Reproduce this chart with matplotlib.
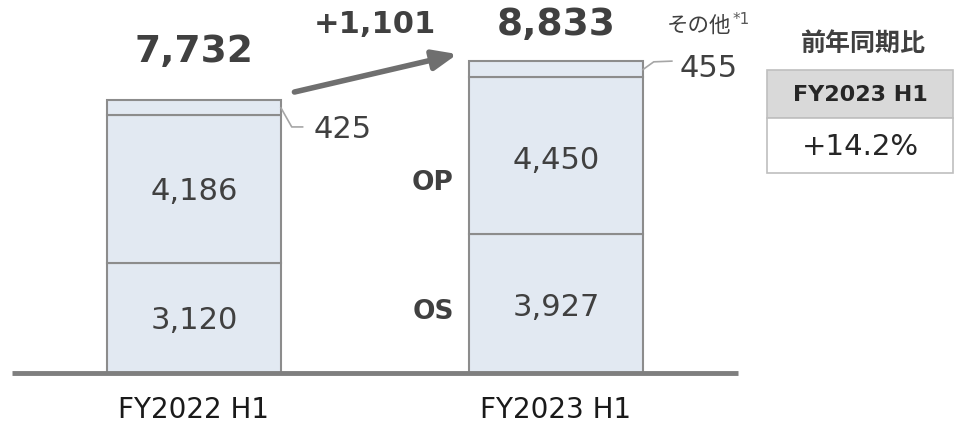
import matplotlib
matplotlib.use('Agg')
import matplotlib.pyplot as plt
from matplotlib.patches import Rectangle, FancyArrowPatch

plt.rcParams['font.family'] = ['DejaVu Sans', 'Noto Sans CJK JP']

categories = ['FY2022 H1', 'FY2023 H1']
os_vals = [3120, 3927]
op_vals = [4186, 4450]
other_vals = [425, 455]
totals = [7732, 8833]
diff_label = '+1,101'
yoy_period = 'FY2023 H1'
yoy_value = '+14.2%'

W, H = 956, 422
fill = '#e2e9f2'
edge = '#8c8c8c'
txt = '#404040'

fig = plt.figure(figsize=(W / 100, H / 100), dpi=100)
ax = fig.add_axes([0, 0, 1, 1])
ax.axis('off')

# pixel mapping: baseline at y=373px, bar centres at 194px and 556px
ppu = 273 / totals[0]
ax.set_ylim(-(H - 373) / ppu, 373 / ppu)
ax.set_xlim(-194 / 362, (W - 194) / 362)
x = [0, 1]
width = 0.48

ax.bar(x, os_vals, width, color=fill, edgecolor=edge, linewidth=1.5)
ax.bar(x, op_vals, width, bottom=os_vals, color=fill, edgecolor=edge, linewidth=1.5)
bot2 = [a + b for a, b in zip(os_vals, op_vals)]
ax.bar(x, other_vals, width, bottom=bot2, color=fill, edgecolor=edge, linewidth=1.5)

ax.hlines(0, -0.503, 1.503, color='#7f7f7f', linewidth=3.5, zorder=3)

os_off = [-60, -120]
op_off = [-60, -120]
tot_off = [1350, 1020]
for i in x:
    ax.text(i, os_vals[i] / 2 + os_off[i], f'{os_vals[i]:,}', ha='center', va='center',
            fontsize=22, color=txt)
    ax.text(i, os_vals[i] + op_vals[i] / 2 + op_off[i],
            f'{op_vals[i]:,}', ha='center', va='center', fontsize=22, color=txt)
    ax.text(i, totals[i] + tot_off[i], f'{totals[i]:,}', ha='center', va='center',
            fontsize=27, fontweight='bold', color=txt)
    ax.text(i, -1040, categories[i], ha='center', va='center', fontsize=20,
            color='#1a1a1a')

# leader lines for "other"
xr = width / 2
ax.plot([xr, xr + 0.03, xr + 0.06], [totals[0] - 220, totals[0] - 763, totals[0] - 763],
        color='#a6a6a6', linewidth=1.2)
ax.text(xr + 0.09, totals[0] - 830, f'{other_vals[0]:,}', ha='left', va='center',
        fontsize=22, color=txt)
ax.plot([1 + xr, 1 + xr + 0.03, 1 + xr + 0.08], [totals[1] - 240, totals[1] - 20, totals[1]],
        color='#a6a6a6', linewidth=1.2)
ax.text(1 + xr + 0.1, totals[1] - 200, f'{other_vals[1]:,}', ha='left', va='center',
        fontsize=22, color=txt)
fig.text(667 / W, 1 - 26 / H, 'その他', ha='left', va='center', fontsize=15.5,
         color=txt, family=['Noto Sans CJK JP'])
fig.text(733 / W, 1 - 20 / H, '*1', ha='left', va='center', fontsize=11, color='#595959')

# segment names
ax.text(0.66, os_vals[1] / 2 - 235, 'OS', ha='center', va='center', fontsize=19,
        fontweight='bold', color=txt)
ax.text(0.66, os_vals[1] + op_vals[1] / 2 - 770, 'OP', ha='center', va='center',
        fontsize=19, fontweight='bold', color=txt)

# growth arrow
arr = FancyArrowPatch((0.27, 7940), (0.735, 9050), arrowstyle='-|>,head_length=12,head_width=5',
                      color='#6f6f6f', linewidth=4, mutation_scale=1.2)
ax.add_patch(arr)
ax.text(0.5, 9880, diff_label, ha='center', va='center', fontsize=22,
        fontweight='bold', color=txt)

# YoY table (figure coords)
fig.text(863 / W, 1 - 44 / H, '前年同期比', ha='center', va='center', fontsize=18,
         fontweight='bold', color=txt, family=['Noto Sans CJK JP'])
fig.patches.append(Rectangle((767 / W, 1 - 118 / H), 186 / W, 48 / H,
                             transform=fig.transFigure, facecolor='#d9d9d9',
                             edgecolor='#bfbfbf', linewidth=1.2))
fig.patches.append(Rectangle((767 / W, 1 - 173 / H), 186 / W, 55 / H,
                             transform=fig.transFigure, facecolor='white',
                             edgecolor='#bfbfbf', linewidth=1.2))
fig.text(860 / W, 1 - 95 / H, yoy_period, ha='center', va='center', fontsize=16,
         fontweight='bold', color='#262626')
fig.text(860 / W, 1 - 147 / H, yoy_value, ha='center', va='center', fontsize=21,
         color='#262626')

fig.savefig('out.png', dpi=100)
